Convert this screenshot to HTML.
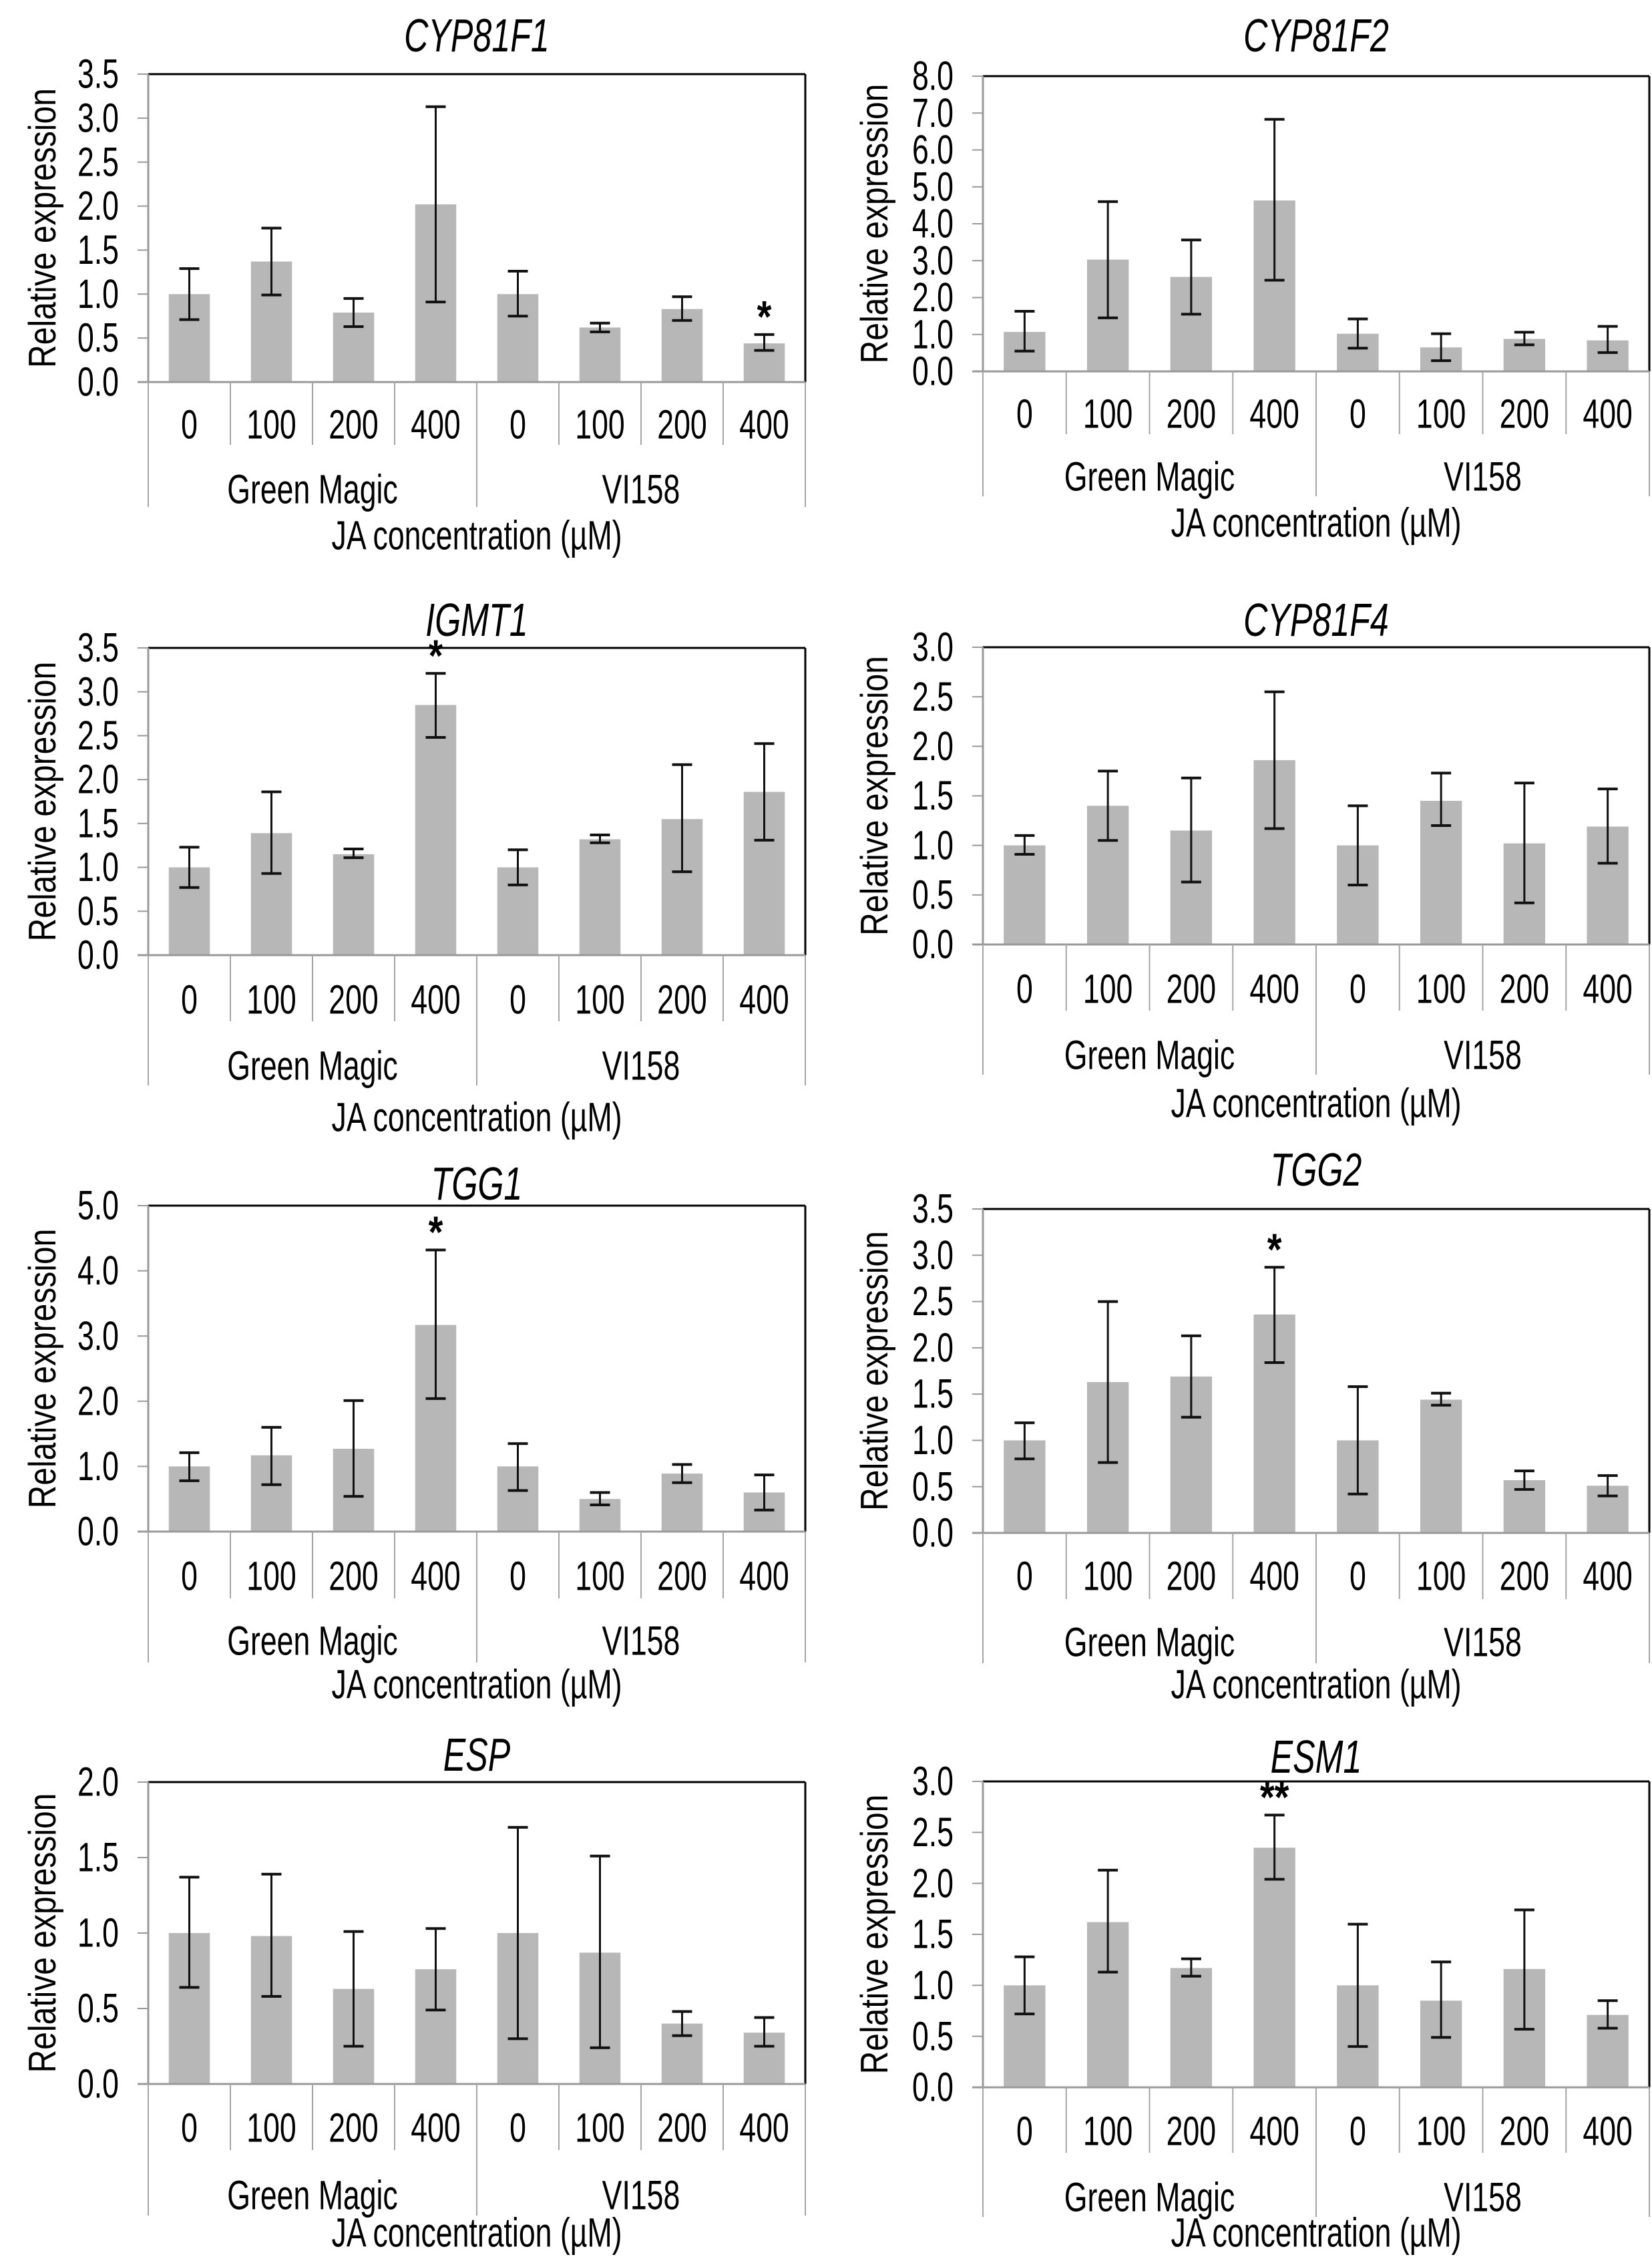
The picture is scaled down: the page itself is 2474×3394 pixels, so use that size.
<!DOCTYPE html>
<html><head><meta charset="utf-8"><style>
html,body{margin:0;padding:0;background:#fff;}
svg text{font-family:"Liberation Sans",Arial,sans-serif;fill:#000;}
</style></head><body>
<svg id="fig" width="2474" height="3389" viewBox="0 0 2474 3389" xmlns="http://www.w3.org/2000/svg"></svg>
<script>
const categories = ["0","100","200","400","0","100","200","400"];
const groups = ["Green Magic","VI158"];
const titles = ["CYP81F1","CYP81F2","IGMT1","CYP81F4","TGG1","TGG2","ESP","ESM1"];
const yMaxes = [3.5,8,3.5,3,5,3.5,2,3];
const yStepsArr = [0.5,1,0.5,0.5,1,0.5,0.5,0.5];
const valsCYP81F1 = [1.0,1.37,0.79,2.02,1.0,0.62,0.83,0.44];
const lowCYP81F1 = [0.71,0.99,0.63,0.91,0.75,0.57,0.70,0.36];
const highCYP81F1 = [1.29,1.75,0.95,3.13,1.26,0.67,0.97,0.54];
const valsCYP81F2 = [1.07,3.03,2.56,4.63,1.02,0.65,0.88,0.84];
const lowCYP81F2 = [0.55,1.45,1.55,2.47,0.63,0.29,0.72,0.51];
const highCYP81F2 = [1.63,4.60,3.56,6.83,1.42,1.02,1.06,1.22];
const valsIGMT1 = [1.0,1.39,1.15,2.85,1.0,1.32,1.55,1.86];
const lowIGMT1 = [0.77,0.93,1.11,2.48,0.80,1.28,0.95,1.31];
const highIGMT1 = [1.23,1.86,1.21,3.21,1.20,1.37,2.17,2.41];
const valsCYP81F4 = [1.0,1.40,1.15,1.86,1.0,1.45,1.02,1.19];
const lowCYP81F4 = [0.91,1.05,0.63,1.17,0.60,1.20,0.42,0.82];
const highCYP81F4 = [1.10,1.75,1.68,2.55,1.40,1.73,1.63,1.57];
const valsTGG1 = [1.0,1.17,1.27,3.17,1.0,0.50,0.89,0.60];
const lowTGG1 = [0.78,0.72,0.54,2.04,0.63,0.41,0.75,0.33];
const highTGG1 = [1.21,1.60,2.01,4.32,1.35,0.60,1.03,0.87];
const valsTGG2 = [1.0,1.63,1.69,2.36,1.0,1.44,0.57,0.51];
const lowTGG2 = [0.80,0.76,1.25,1.84,0.42,1.38,0.47,0.40];
const highTGG2 = [1.19,2.50,2.13,2.87,1.58,1.51,0.67,0.62];
const valsESP = [1.0,0.98,0.63,0.76,1.0,0.87,0.40,0.34];
const lowESP = [0.64,0.58,0.25,0.49,0.30,0.24,0.32,0.25];
const highESP = [1.37,1.39,1.01,1.03,1.70,1.51,0.48,0.44];
const valsESM1 = [1.0,1.62,1.17,2.35,1.0,0.85,1.16,0.71];
const lowESM1 = [0.72,1.13,1.09,2.04,0.40,0.49,0.57,0.58];
const highESM1 = [1.28,2.13,1.26,2.67,1.60,1.23,1.74,0.85];
const starsCYP81F1 = ["","","","","","","","*"];
const starsIGMT1 = ["","","","*","","","",""];
const starsTGG1 = ["","","","*","","","",""];
const starsTGG2 = ["","","","*","","","",""];
const starsESM1 = ["","","","**","","","",""];
const none = ["","","","","","","",""];

const data = [
 [valsCYP81F1,lowCYP81F1,highCYP81F1,starsCYP81F1],
 [valsCYP81F2,lowCYP81F2,highCYP81F2,none],
 [valsIGMT1,lowIGMT1,highIGMT1,starsIGMT1],
 [valsCYP81F4,lowCYP81F4,highCYP81F4,none],
 [valsTGG1,lowTGG1,highTGG1,starsTGG1],
 [valsTGG2,lowTGG2,highTGG2,starsTGG2],
 [valsESP,lowESP,highESP,none],
 [valsESM1,lowESM1,highESM1,starsESM1]
];
const layout = [
 [222,1206,111,572,666,759,636,733,802,53],
 [1472,2470,114,556,650,743,620,714,783,53],
 [222,1206,970,1430,1529,1625,1497,1596,1673,928],
 [1472,2470,969,1414,1513,1609,1481,1580,1652,928],
 [222,1206,1805,2293,2393,2489,2360,2457,2522,1772],
 [1472,2470,1810,2295,2394,2490,2360,2459,2522,1751],
 [222,1206,2668,3120,3219,3317,3186,3287,3343,2627],
 [1472,2470,2667,3125,3223,3319,3191,3290,3343,2630]
];
const NS="http://www.w3.org/2000/svg";
const svg=document.getElementById('fig');
function mk(tag,attrs,parent){const e=document.createElementNS(NS,tag);for(const k in attrs)e.setAttribute(k,attrs[k]);(parent||svg).appendChild(e);return e;}
function line(g,x1,y1,x2,y2,c,w){return mk('line',{x1:x1,y1:y1,x2:x2,y2:y2,stroke:c,'stroke-width':w},g);}
function txt(g,x,y,s,size,anchor,extra,sx,sy){
  const t=mk('text',Object.assign({x:0,y:0,'font-size':size,'text-anchor':anchor||'middle','dominant-baseline':'central',
    transform:`translate(${x},${y}) scale(${sx||0.93},${sy||1.28})`},extra||{}),g);
  t.textContent=s;return t;}

for(let p=0;p<8;p++){
  const [L,R,T,Z,CE,GE,TY,GY,AY,TTY]=layout[p];
  const [vals,low,high,stars]=data[p];
  const ymax=yMaxes[p], step=yStepsArr[p];
  const yS=v=>Z-(v/ymax)*(Z-T);
  const n=categories.length, cw=(R-L)/n;
  const xS=i=>L+cw*(i+0.5);
  const g=mk('g',{});
  
  
  const tt=txt(g,(L+R)/2,TTY,titles[p],54,'middle',{'font-style':'italic'});
  
  
  line(g,L,T,R,T,'#000',3); line(g,R,T,R,Z,'#000',3);
  line(g,L,T,L,Z,'#999',3);
  const nt=Math.round(ymax/step);
  for(let k=0;k<=nt;k++){
    const v=k*step, y=yS(v);
    line(g,L-16,y,L,y,'#999',2);
    const lb=txt(g,L-44,y,v.toFixed(1),48,'end');
    
    
  }
  const yt=mk('text',{x:0,y:0,'font-size':48,'text-anchor':'middle','dominant-baseline':'central',
    transform:`translate(${p%2?1310:64},${(T+Z)/2}) rotate(-90) scale(1,1.2)`},g);
  yt.textContent='Relative expression';
  
  
  for(let i=0;i<n;i++){
    const x=xS(i), bw=cw*0.5;
    const b=mk('rect',{x:x-bw/2,y:yS(vals[i]),width:bw,height:Z-yS(vals[i]),fill:'#b7b7b7'},g);
    
    
    const eg=mk('g',{},g);
    
    
    line(eg,x,yS(high[i]),x,yS(low[i]),'#111',3);
    line(eg,x-15,yS(high[i]),x+15,yS(high[i]),'#111',4);
    line(eg,x-15,yS(low[i]),x+15,yS(low[i]),'#111',4);
    if(stars[i]){
      const s=txt(g,x,yS(high[i])-26,stars[i],56,'middle',{'font-weight':'bold'},1,1.2);
      
      
    }
  }
  line(g,L-16,Z,R,Z,'#999',3);
  for(let i=0;i<=n;i++){
    const x=L+cw*i;
    const grp=(i===0||i===4||i===n);
    line(g,x,Z,x,grp?GE:CE,'#a5a5a5',2);
  }
  for(let i=0;i<n;i++){
    const c=txt(g,xS(i),TY,categories[i],48);
    
    
  }
  for(let j=0;j<2;j++){
    const gl=txt(g,L+cw*4*(j+0.5),GY,groups[j],48);
    
    
  }
  const xt=txt(g,(L+R)/2,AY,'JA concentration (µM)',48);
  
  
}
</script>
</body></html>
